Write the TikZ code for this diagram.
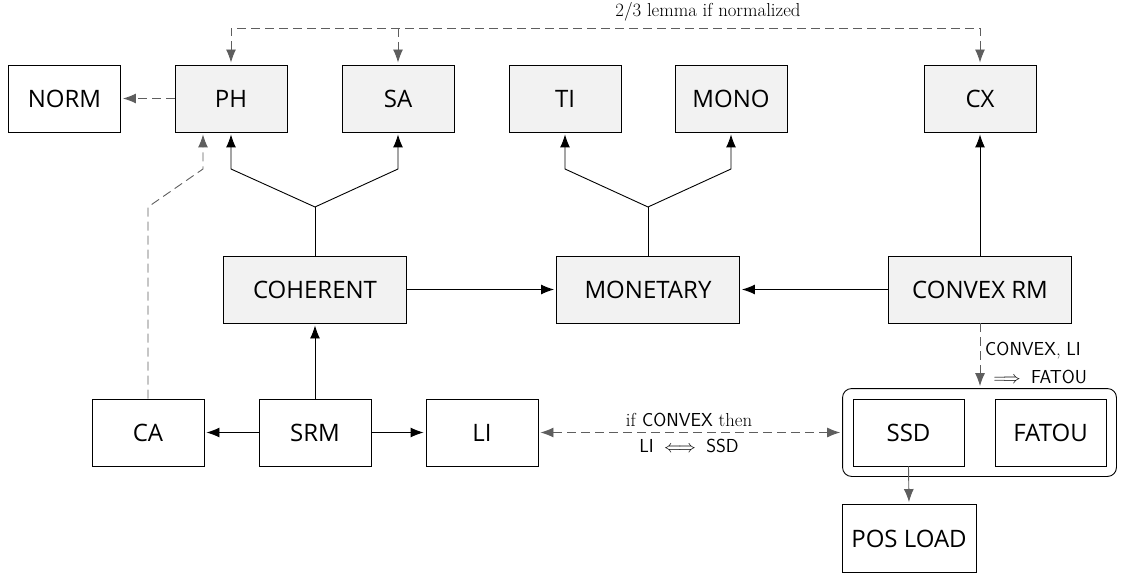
\documentclass[tikz,border=0pt]{standalone}
\usepackage{fontspec}
\usepackage{amsmath}
\newfontfamily\boxfont{Open Sans}
\usetikzlibrary{arrows.meta,fit,calc}
\definecolor{boxfill}{HTML}{F2F2F2}
\definecolor{dgray}{HTML}{5E5E5E}
\begin{document}
\begin{tikzpicture}[x=1pt,y=-1pt,
  base/.style={draw=black,line width=0.9pt,minimum height=67pt,inner sep=0pt,font=\boxfont\fontsize{24}{27}\selectfont},
  wbox/.style={base,fill=white,minimum width=112pt},
  gbox/.style={base,fill=boxfill,minimum width=112pt},
  wide/.style={minimum width=183pt},
  sol/.style={line width=0.9pt,draw=black,-{Latex[length=13pt,width=10pt]},shorten >=2pt},
  dsh/.style={line width=0.9pt,draw=dgray,dash pattern=on 9pt off 5pt,-{Latex[length=13pt,width=10pt]},shorten >=2pt},
  gsol/.style={line width=0.9pt,draw=dgray,-{Latex[length=13pt,width=10pt]},shorten >=2pt},
  lab/.style={font=\fontsize{18.8}{23}\selectfont,inner sep=0pt}]
\useasboundingbox (0,0) rectangle (1124,577);
% top row
\node[wbox] (NORM) at (64.5,98.5) {NORM};
\node[gbox] (PH) at (231,98.5) {PH};
\node[gbox] (SA) at (398,98.5) {SA};
\node[gbox] (TI) at (565,98.5) {TI};
\node[gbox] (MONO) at (731,98.5) {MONO};
\node[gbox] (CX) at (980,98.5) {CX};
% middle row
\node[gbox,wide] (COH) at (315,289.5) {COHERENT};
\node[gbox,wide] (MON) at (648,289.5) {MONETARY};
\node[gbox,wide] (CRM) at (980,289.5) {CONVEX RM};
% bottom row
\node[wbox] (CA) at (148,432.5) {CA};
\node[wbox] (SRM) at (315,432.5) {SRM};
\node[wbox] (LI) at (482,432.5) {LI};
\node[wbox,minimum width=111pt] (SSD) at (908.5,432.5) {SSD};
\node[wbox,minimum width=111pt] (FATOU) at (1050.5,432.5) {FATOU};
\node[draw=black,line width=0.9pt,rounded corners=9pt,inner sep=10pt,fit=(SSD)(FATOU)] (GRP) {};
\node[wbox,minimum width=134pt,minimum height=68pt] (POS) at (909,538.5) {POS LOAD};
% coordinates
\coordinate (j1) at (315,207);
\coordinate (j2) at (648,207);
\coordinate (caA) at (148,207);
\coordinate (caB) at (203,169);
% top dashed connector
\draw[dsh,{Latex[length=13pt,width=10pt]}-{Latex[length=13pt,width=10pt]},shorten <=2pt] (PH.north) -- (PH.north |- 0,28) -- (CX.north |- 0,28) -- (CX.north);
\draw[dsh] (SA.north |- 0,28) -- (SA.north);
\node[lab] (lemma) at (708,12) {2/3 lemma if normalized};
% PH -> NORM
\draw[dsh] (PH.west) -- (NORM.east);
% COHERENT branches
\draw[line width=0.9pt] (COH.north) -- (j1);
\draw[sol] (j1) -- (231,169) -- (PH.south);
\draw[sol] (j1) -- (398,169) -- (SA.south);
% MONETARY branches
\draw[line width=0.9pt] (MON.north) -- (j2);
\draw[sol] (j2) -- (565,169) -- (TI.south);
\draw[sol] (j2) -- (731,169) -- (MONO.south);
% CX
\draw[sol] (CRM.north) -- (CX.south);
% middle horizontal
\draw[sol] (COH.east) -- (MON.west);
\draw[sol] (CRM.west) -- (MON.east);
% CA -> PH
\draw[dsh] (CA.north) -- (caA) -- (caB) -- (caB |- PH.south);
% SRM
\draw[sol] (SRM.north) -- (COH.south);
\draw[sol] (SRM.west) -- (CA.east);
\draw[sol] (SRM.east) -- (LI.west);
% LI <-> group
\draw[dsh,{Latex[length=13pt,width=10pt]}-{Latex[length=13pt,width=10pt]},shorten <=2pt] (LI.east) -- (GRP.west);
\node[lab] (l1) at (689,420) {if \textsf{CONVEX} then};
\node[lab] (l2) at (689,446) {\textsf{LI} $\iff$ \textsf{SSD}};
% CONVEX RM -> group
\draw[dsh] (CRM.south) -- (CRM.south |- GRP.north);
\node[lab] (l3) at (1033,351) {\textsf{CONVEX}, \textsf{LI}};
\node[lab] (l4) at (1038,377) {$\implies$ \textsf{FATOU}};
% SSD -> POS LOAD
\draw[gsol] (SSD.south) -- (POS.north);
\end{tikzpicture}
\end{document}
